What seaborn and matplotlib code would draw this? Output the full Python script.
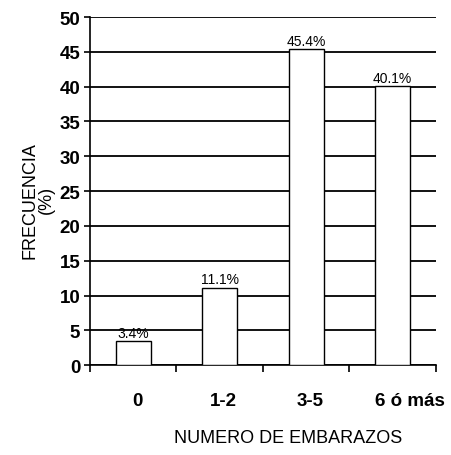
import numpy as np
import pandas as pd
import matplotlib.pyplot as plt
import matplotlib.transforms as mtransforms
import seaborn as sns
from matplotlib.ticker import FixedLocator

categorias = ['0', '1-2', '3-5', '6 ó más']
frecuencia = [3.4, 11.1, 45.4, 40.1]
etiquetas = ['3.4%', '11.1%', '45.4%', '40.1%']

df = pd.DataFrame({'embarazos': categorias, 'frecuencia': frecuencia})

sns.set_style('white')
plt.rcParams['font.family'] = ['Liberation Sans', 'DejaVu Sans']
for k in ['text.color', 'axes.labelcolor', 'xtick.color', 'ytick.color']:
    plt.rcParams[k] = 'black'

fig = plt.figure(figsize=(4.51, 4.56), dpi=100)
ax = fig.add_axes([0.1996, 0.197, 0.767, 0.7635])
sns.barplot(data=df, x='embarazos', y='frecuencia', color='white',
            edgecolor='black', linewidth=1, width=0.4, ax=ax, zorder=3)

ax.set_ylim(0, 50)
ax.set_xlim(-0.5, 3.5)
ax.set_yticks(np.arange(0, 51, 5))
ax.yaxis.grid(True, color='black', linewidth=1.3, zorder=0)
ax.set_axisbelow(True)
for s in ['top', 'right']:
    ax.spines[s].set_visible(False)
for s in ['left', 'bottom']:
    ax.spines[s].set_color('black')
    ax.spines[s].set_linewidth(1.2)

ax.tick_params(axis='x', which='major', length=0, pad=19)
ax.xaxis.set_minor_locator(FixedLocator(np.arange(-0.5, 4, 1)))
ax.tick_params(axis='x', which='minor', length=5, width=1.2, color='black', direction='out', bottom=True)
ax.tick_params(axis='y', length=4, width=1.2, color='black', direction='out', left=True, pad=3)

for lbl in ax.get_xticklabels() + ax.get_yticklabels():
    lbl.set_fontweight('bold')
    lbl.set_fontsize(13.5)

# etiquetas del eje x ligeramente desplazadas a la derecha, como en el original
xlabels = ax.get_xticklabels()
for i, lbl in enumerate(xlabels):
    dx = 17 if i == len(xlabels) - 1 else 4
    lbl.set_transform(lbl.get_transform() + mtransforms.ScaledTranslation(dx / 100, 0, fig.dpi_scale_trans))

for i, (v, t) in enumerate(zip(frecuencia, etiquetas)):
    ax.text(i, v + 0.2, t, ha='center', va='bottom', fontsize=10)

ax.set_xlabel('NUMERO DE EMBARAZOS', fontsize=13)
ax.xaxis.set_label_coords(0.572, -0.184)
ax.set_ylabel('FRECUENCIA\n(%)', fontsize=13, linespacing=1.0)
ax.yaxis.set_label_coords(-0.101, 0.477)

fig.savefig('out.png', dpi=100)
